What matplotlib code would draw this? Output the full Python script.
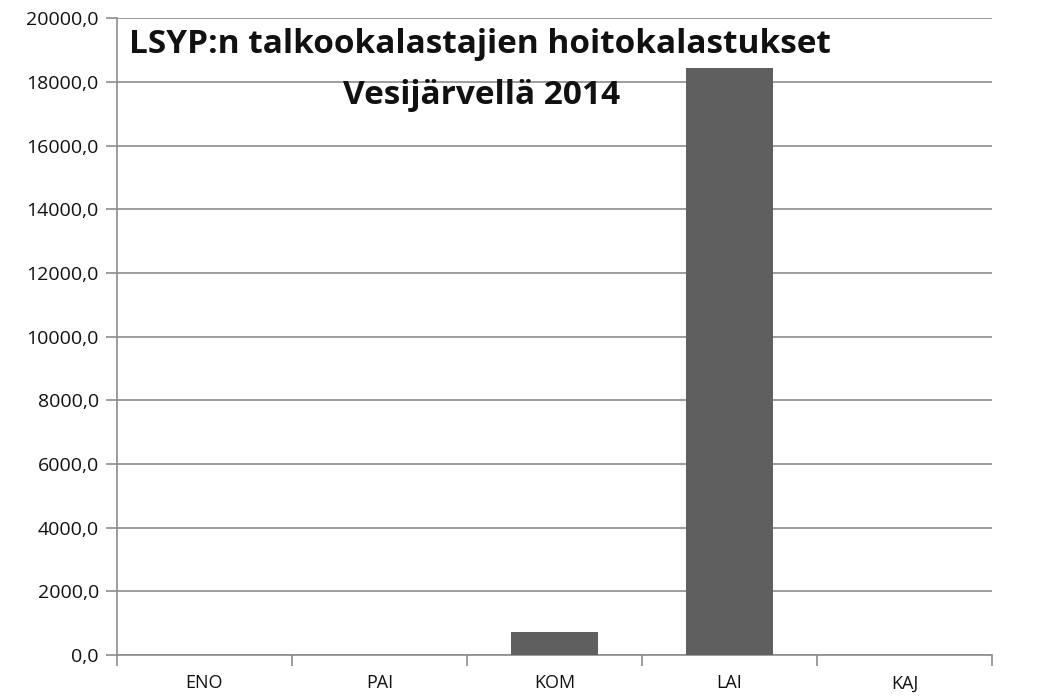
import matplotlib
matplotlib.use("Agg")
import matplotlib.pyplot as plt
from matplotlib.ticker import FuncFormatter, FixedLocator
import numpy as np

categories = ["ENO", "PAI", "KOM", "LAI", "KAJ"]
values = [0, 0, 730, 18450, 0]
yticks = list(range(0, 20001, 2000))
title_lines = ["LSYP:n talkookalastajien hoitokalastukset", "Vesijärvellä 2014"]

plt.rcParams['font.family'] = ['Open Sans', 'DejaVu Sans']

fig = plt.figure(figsize=(10.52, 6.98), dpi=100)
ax = fig.add_axes([0.1112, 0.0616, 0.8318, 0.9124])

x = np.arange(len(categories))
ax.bar(x, values, width=0.5, color="#5f5f5f", zorder=3)

ax.set_xlim(-0.5, len(categories) - 0.5)
ax.set_ylim(0, 20000)
ax.set_yticks(yticks)
ax.yaxis.set_major_formatter(FuncFormatter(lambda v, p: f"{v:.1f}".replace(".", ",")))
ax.grid(axis="y", color="#8c8c8c", linewidth=1.2, zorder=0)

ax.set_xticks(x)
ax.set_xticklabels(categories)
ax.xaxis.set_minor_locator(FixedLocator(np.arange(-0.5, len(categories), 1.0)))
ax.tick_params(axis="x", which="major", length=0, pad=14, labelsize=13, labelcolor="#111111")
ax.tick_params(axis="x", which="minor", length=8, color="#8c8c8c", width=1.2, direction="out")
ax.tick_params(axis="y", length=8, color="#8c8c8c", width=1.2, labelsize=14, labelcolor="#111111", pad=5)
for lab in ax.get_yticklabels() + ax.get_xticklabels():
    lab.set_fontweight("medium")

for s in ["top", "right"]:
    ax.spines[s].set_visible(False)
for s in ["left", "bottom"]:
    ax.spines[s].set_color("#8c8c8c")
    ax.spines[s].set_linewidth(1.2)

ax.text(0.415, 0.958, title_lines[0], transform=ax.transAxes, ha="center", va="center",
        fontsize=24, fontweight="bold", color="#111111", zorder=5)
ax.text(0.417, 0.879, title_lines[1], transform=ax.transAxes, ha="center", va="center",
        fontsize=24, fontweight="bold", color="#111111", zorder=5)

fig.savefig("out.png", dpi=100)
